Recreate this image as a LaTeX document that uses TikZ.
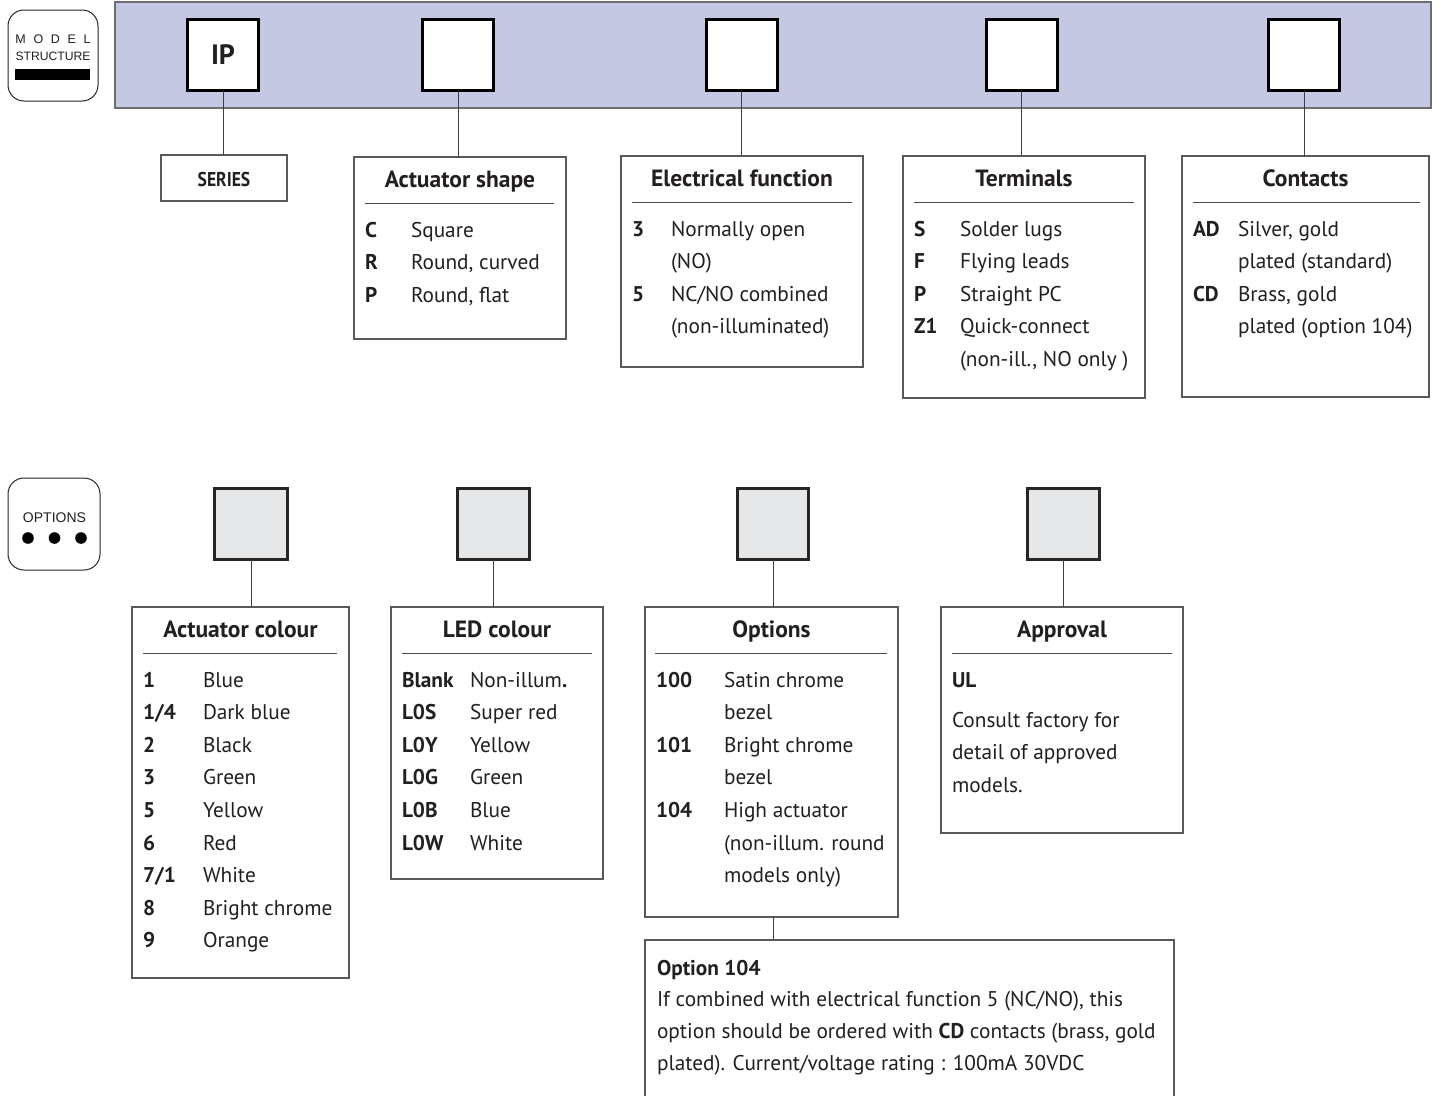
\documentclass[tikz,border=0pt]{standalone}
\usepackage{fontspec}
\setmainfont{PT Sans}
\newfontfamily\iconfont{Liberation Sans}
\usetikzlibrary{fit}
\definecolor{bandblue}{HTML}{C5C8E3}
\definecolor{bandedge}{HTML}{6D6E71}
\definecolor{sqgray}{HTML}{E6E7E8}
\definecolor{ink}{HTML}{231F20}
\definecolor{boxedge}{HTML}{58595B}
\newcommand\keyrow[6]{%
  \node[keytxt] (#1k) at (#2,#4) {#5};
  \node[bodytxt] (#1v) at (#3,#4) {#6};}
\begin{document}
\begin{tikzpicture}[x=1pt,y=-1pt,
  every node/.style={inner sep=0pt, outer sep=0pt, text=ink},
  band/.style={fill=bandblue, draw=bandedge, line width=1.3pt},
  topsq/.style={draw=black, line width=3pt, fill=white},
  botsq/.style={draw=black!85, line width=2.6pt, fill=sqgray},
  infobox/.style={draw=boxedge, line width=1.3pt, fill=white},
  conn/.style={draw=black!75, line width=1pt},
  rulel/.style={draw=black!70, line width=1pt},
  keytxt/.style={anchor=base west, font=\fontsize{21.3}{24}\selectfont\bfseries},
  bodytxt/.style={anchor=base west, font=\fontsize{21.3}{24}\selectfont},
  titletxt/.style={anchor=base, font=\fontsize{23.5}{26}\selectfont\bfseries},
  iconbox/.style={draw=black!85, line width=1pt, rounded corners=16pt, fill=white}
]
\useasboundingbox (0,0) rectangle (1439,1095);

% ---------- icons ----------
\node[iconbox, fit={(8,10) (98,101)}] (iconmodel) {};
\node[anchor=base, font=\iconfont\fontsize{12.5}{14}\selectfont] (icmodel) at (53,43) {\makebox[75pt][s]{M\hfill O\hfill D\hfill E\hfill L}};
\node[anchor=base, font=\iconfont\fontsize{13}{15}\selectfont] (icstruct) at (53,60) {\resizebox{75pt}{!}{STRUCTURE}};
\fill[black] (15,69) rectangle (90,80);

\node[iconbox, fit={(8,478) (100,570)}] (iconopt) {};
\node[anchor=base, font=\iconfont\fontsize{14}{16}\selectfont] (icopt) at (54.5,522) {OPTIONS};
\foreach \dx in {28,54.5,81} \fill[black] (\dx,538) circle (5.8);

% ---------- band and top squares ----------
\node[band, fit={(115,2) (1431,108)}] (band) {};
\node[topsq, fit={(187.5,19.5) (258.5,90.5)}] (sqIP) {};
\node[font=\fontsize{28}{30}\selectfont\bfseries] (ip) at (sqIP) {IP};
\node[topsq, fit={(422.5,19.5) (493.5,90.5)}] (sqA) {};
\node[topsq, fit={(706,19.5) (777,90.5)}] (sqE) {};
\node[topsq, fit={(986,19.5) (1057,90.5)}] (sqT) {};
\node[topsq, fit={(1268.5,19.5) (1339.5,90.5)}] (sqC) {};

% ---------- top boxes ----------
\node[infobox, fit={(161,155) (287,201)}] (series) {};
\node[font=\fontsize{20}{22}\selectfont\bfseries, anchor=base] (seriest) at (224,186) {\scalebox{0.88}[1]{SERIES}};

\node[infobox, fit={(354,157) (566,339)}] (ashape) {};
\node[infobox, fit={(621,156) (863,367)}] (efunc) {};
\node[infobox, fit={(903,156) (1145,398)}] (term) {};
\node[infobox, fit={(1182,156) (1429,397)}] (cont) {};

\draw[conn] (sqIP.south) -- (sqIP.south |- series.north);
\draw[conn] (sqA.south) -- (sqA.south |- ashape.north);
\draw[conn] (sqE.south) -- (sqE.south |- efunc.north);
\draw[conn] (sqT.south) -- (sqT.south |- term.north);
\draw[conn] (sqC.south) -- (sqC.south |- cont.north);

% Actuator shape
\node[titletxt] (ashapet) at (460,187) {Actuator shape};
\draw[rulel] (365,203) -- (554,203);
\keyrow{as1}{365}{411}{237}{C}{Square}
\keyrow{as2}{365}{411}{269.5}{R}{Round, curved}
\keyrow{as3}{365}{411}{302}{P}{Round, flat}

% Electrical function
\node[titletxt] (efunct) at (742,186) {Electrical function};
\draw[rulel] (632,202) -- (852,202);
\keyrow{ef1}{632}{671}{236}{3}{Normally open}
\node[bodytxt] (ef2) at (671,268.5) {(NO)};
\keyrow{ef3}{632}{671}{301}{5}{NC/NO combined}
\node[bodytxt] (ef4) at (671,333.5) {(non-illuminated)};

% Terminals
\node[titletxt] (termt) at (1024,186) {Terminals};
\draw[rulel] (914,202) -- (1134,202);
\keyrow{te1}{914}{960}{236}{S}{Solder lugs}
\keyrow{te2}{914}{960}{268.5}{F}{Flying leads}
\keyrow{te3}{914}{960}{301}{P}{Straight PC}
\keyrow{te4}{914}{960}{333.5}{Z1}{Quick-connect}
\node[bodytxt] (te5) at (960,366) {(non-ill., NO only )};

% Contacts
\node[titletxt] (contt) at (1305.5,186) {Contacts};
\draw[rulel] (1193,202) -- (1420,202);
\keyrow{co1}{1193}{1238}{236}{AD}{Silver, gold}
\node[bodytxt] (co2) at (1238,268.5) {plated (standard)};
\keyrow{co3}{1193}{1238}{301}{CD}{Brass, gold}
\node[bodytxt] (co4) at (1238,333.5) {plated (option 104)};

% ---------- bottom squares ----------
\node[botsq, fit={(214.5,488.5) (287.5,559.5)}] (sq1) {};
\node[botsq, fit={(457.5,488.5) (529.5,559.5)}] (sq2) {};
\node[botsq, fit={(737.5,488.5) (808.5,559.5)}] (sq3) {};
\node[botsq, fit={(1027.5,488.5) (1099.5,559.5)}] (sq4) {};

\node[infobox, fit={(132,607) (349,978)}] (acol) {};
\node[infobox, fit={(391,607) (603,879)}] (led) {};
\node[infobox, fit={(645,607) (898,917)}] (opts) {};
\node[infobox, fit={(941,607) (1183,833)}] (appr) {};
\node[infobox, fit={(645,940) (1174,1110)}] (o104) {};

\draw[conn] (sq1.south) -- (sq1.south |- acol.north);
\draw[conn] (sq2.south) -- (sq2.south |- led.north);
\draw[conn] (sq3.south) -- (sq3.south |- opts.north);
\draw[conn] (sq4.south) -- (sq4.south |- appr.north);
\draw[conn] (sq3.south |- opts.south) -- (sq3.south |- o104.north);

% Actuator colour
\node[titletxt] (acolt) at (240.5,637) {Actuator colour};
\draw[rulel] (143,653) -- (337,653);
\keyrow{ac1}{143}{203}{687}{1}{Blue}
\keyrow{ac2}{143}{203}{719.6}{1/4}{Dark blue}
\keyrow{ac3}{143}{203}{752.2}{2}{Black}
\keyrow{ac4}{143}{203}{784.8}{3}{Green}
\keyrow{ac5}{143}{203}{817.4}{5}{Yellow}
\keyrow{ac6}{143}{203}{850}{6}{Red}
\keyrow{ac7}{143}{203}{882.6}{7/1}{White}
\keyrow{ac8}{143}{203}{915.2}{8}{Bright chrome}
\keyrow{ac9}{143}{203}{947.8}{9}{Orange}

% LED colour
\node[titletxt] (ledt) at (497,637) {LED colour};
\draw[rulel] (402,653) -- (592,653);
\keyrow{le1}{402}{470}{687}{Blank}{Non-illum\textbf{.}}
\keyrow{le2}{402}{470}{719.6}{L0S}{Super red}
\keyrow{le3}{402}{470}{752.2}{L0Y}{Yellow}
\keyrow{le4}{402}{470}{784.8}{L0G}{Green}
\keyrow{le5}{402}{470}{817.4}{L0B}{Blue}
\keyrow{le6}{402}{470}{850}{L0W}{White}

% Options
\node[titletxt] (optst) at (771.5,637) {Options};
\draw[rulel] (655,653) -- (887,653);
\keyrow{op1}{656}{724}{687}{100}{Satin chrome}
\node[bodytxt] (op2) at (724,719.6) {bezel};
\keyrow{op3}{656}{724}{752.2}{101}{Bright chrome}
\node[bodytxt] (op4) at (724,784.8) {bezel};
\keyrow{op5}{656}{724}{817.4}{104}{High actuator}
\node[bodytxt] (op6) at (724,850) {(non-illum. round};
\node[bodytxt] (op7) at (724,882.6) {models only)};

% Approval
\node[titletxt] (apprt) at (1062,637) {Approval};
\draw[rulel] (952,653) -- (1172,653);
\node[keytxt] (ap1) at (952,687) {UL};
\node[bodytxt] (ap2) at (952,727) {Consult factory for};
\node[bodytxt] (ap3) at (952,759.6) {detail of approved};
\node[bodytxt] (ap4) at (952,792.2) {models.};

% Option 104 note
\node[keytxt] (n1) at (657,975) {Option 104};
\node[bodytxt] (n2) at (657,1006) {If combined with electrical function 5 (NC/NO), this};
\node[bodytxt] (n3) at (657,1038) {option should be ordered with \textbf{CD} contacts (brass, gold};
\node[bodytxt] (n4) at (657,1070) {plated). Current/voltage rating : 100mA 30VDC};
\end{tikzpicture}
\end{document}
